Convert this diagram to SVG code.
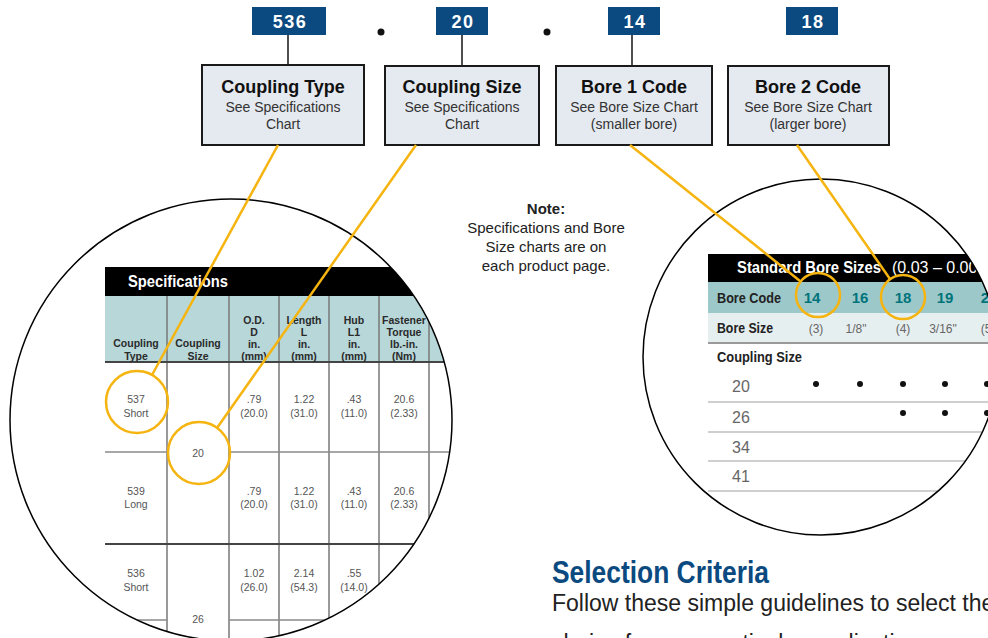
<svg xmlns="http://www.w3.org/2000/svg" width="988" height="638" viewBox="0 0 988 638">
<style>
.code{fill:#0b4a80}
.codet{font-family:'Liberation Sans',Arial,sans-serif;font-weight:bold;font-size:18px;fill:#fff;text-anchor:middle;letter-spacing:1.5px}
.box{fill:#e5e9f0;stroke:#1a1a1a;stroke-width:2}
.bt{font-family:'Liberation Sans',Arial,sans-serif;font-weight:bold;font-size:18px;fill:#111;text-anchor:middle}
.bs{font-family:'Liberation Sans',Arial,sans-serif;font-size:14px;fill:#333;text-anchor:middle}
.stem{stroke:#222;stroke-width:1.6;fill:none}
.yl{stroke:#f5b40f;stroke-width:2.5;fill:none}
.lens{fill:none;stroke:#000;stroke-width:1.5}
.hd{font-family:'Liberation Sans Narrow','Liberation Sans',Arial,sans-serif;font-weight:bold;font-size:10.5px;fill:#2a2a2a;text-anchor:middle}
.dt{font-family:'Liberation Sans Narrow','Liberation Sans',Arial,sans-serif;font-size:10.5px;fill:#555;text-anchor:middle}
.col{stroke:#777;stroke-width:1.5}
.rl{stroke:#8a8a8a;stroke-width:1.5}
.heavy{stroke:#444;stroke-width:2.2}
.rb{font-family:'Liberation Sans Narrow','Liberation Sans',Arial,sans-serif;font-weight:bold;font-size:15px;fill:#222}
.tn{font-family:'Liberation Sans Narrow','Liberation Sans',Arial,sans-serif;font-weight:bold;font-size:15px;fill:#00747a;text-anchor:middle}
.bv{font-family:'Liberation Sans Narrow','Liberation Sans',Arial,sans-serif;font-size:12px;fill:#666;text-anchor:middle}
.cs{font-family:'Liberation Sans',Arial,sans-serif;font-size:16px;fill:#666}
.rline{stroke:#cfcfcf;stroke-width:2}
.note{font-family:'Liberation Sans',Arial,sans-serif;font-size:15px;fill:#222;text-anchor:middle}
</style>
<defs>
<clipPath id="clipL"><circle cx="231" cy="420" r="221"/></clipPath>
<clipPath id="clipR"><circle cx="821" cy="357" r="178"/></clipPath>
</defs>
<rect width="988" height="638" fill="#fff"/>

<g id="code-536"><rect class="code" x="252" y="7" width="74" height="28"/><text class="codet" x="290" y="28">536</text></g>
<g id="dot-1"><circle cx="381" cy="32" r="3.5" fill="#111"/></g>
<g id="code-20"><rect class="code" x="436" y="7" width="52" height="28"/><text class="codet" x="463" y="28">20</text></g>
<g id="dot-2"><circle cx="547" cy="32" r="3.5" fill="#111"/></g>
<g id="code-14"><rect class="code" x="608" y="7" width="52" height="28"/><text class="codet" x="635" y="28">14</text></g>
<g id="code-18"><rect class="code" x="786" y="7" width="52" height="28"/><text class="codet" x="813" y="28">18</text></g>

<g id="box-coupling-type"><rect class="box" x="202" y="65" width="162" height="80"/>
<text class="bt" x="283" y="93">Coupling Type</text>
<text class="bs" x="283" y="112">See Specifications</text>
<text class="bs" x="283" y="129">Chart</text></g>
<g id="box-coupling-size"><rect class="box" x="385" y="66" width="154" height="79"/>
<text class="bt" x="462" y="93">Coupling Size</text>
<text class="bs" x="462" y="112">See Specifications</text>
<text class="bs" x="462" y="129">Chart</text></g>
<g id="box-bore1"><rect class="box" x="556" y="66" width="156" height="79"/>
<text class="bt" x="634" y="93">Bore 1 Code</text>
<text class="bs" x="634" y="112">See Bore Size Chart</text>
<text class="bs" x="634" y="129">(smaller bore)</text></g>
<g id="box-bore2"><rect class="box" x="728" y="66" width="161" height="79"/>
<text class="bt" x="808" y="93">Bore 2 Code</text>
<text class="bs" x="808" y="112">See Bore Size Chart</text>
<text class="bs" x="808" y="129">(larger bore)</text></g>

<g id="note">
<text class="note" x="546" y="214" font-weight="bold">Note:</text>
<text class="note" x="546" y="233">Specifications and Bore</text>
<text class="note" x="546" y="252">Size charts are on</text>
<text class="note" x="546" y="271">each product page.</text>
</g>

<g id="spec-chart">
<g clip-path="url(#clipL)">
<rect x="105" y="267" width="400" height="29" fill="#000"/>
<text x="128" y="287" font-family="'Liberation Sans Narrow','Liberation Sans',Arial,sans-serif" font-weight="bold" font-size="17" fill="#fff" textLength="100" lengthAdjust="spacingAndGlyphs">Specifications</text>
<rect x="105" y="296" width="400" height="66" fill="#b7d7d9"/>
<line class="col" x1="167" y1="296" x2="167" y2="640"/>
<line class="col" x1="229" y1="296" x2="229" y2="640"/>
<line class="col" x1="279" y1="296" x2="279" y2="640"/>
<line class="col" x1="329" y1="296" x2="329" y2="640"/>
<line class="col" x1="379" y1="296" x2="379" y2="640"/>
<line class="col" x1="429" y1="296" x2="429" y2="640"/>
<line class="heavy" x1="105" y1="362" x2="505" y2="362"/>
<line class="rl" x1="105" y1="452" x2="167" y2="452"/>
<line class="rl" x1="229" y1="452" x2="505" y2="452"/>
<line class="heavy" x1="105" y1="544" x2="505" y2="544"/>
<line class="rl" x1="105" y1="620" x2="167" y2="620"/>
<line class="rl" x1="229" y1="620" x2="505" y2="620"/>
<text class="hd" x="136" y="347">Coupling</text><text class="hd" x="136" y="360">Type</text>
<text class="hd" x="198" y="347">Coupling</text><text class="hd" x="198" y="360">Size</text>
<text class="hd" x="254" y="324">O.D.</text><text class="hd" x="254" y="336">D</text><text class="hd" x="254" y="348">in.</text><text class="hd" x="254" y="360">(mm)</text>
<text class="hd" x="304" y="324">Length</text><text class="hd" x="304" y="336">L</text><text class="hd" x="304" y="348">in.</text><text class="hd" x="304" y="360">(mm)</text>
<text class="hd" x="354" y="324">Hub</text><text class="hd" x="354" y="336">L1</text><text class="hd" x="354" y="348">in.</text><text class="hd" x="354" y="360">(mm)</text>
<text class="hd" x="404" y="324">Fastener</text><text class="hd" x="404" y="336">Torque</text><text class="hd" x="404" y="348">lb.-in.</text><text class="hd" x="404" y="360">(Nm)</text>
<text class="dt" x="136" y="403">537</text><text class="dt" x="136" y="417">Short</text>
<text class="dt" x="254" y="403">.79</text><text class="dt" x="254" y="417">(20.0)</text>
<text class="dt" x="304" y="403">1.22</text><text class="dt" x="304" y="417">(31.0)</text>
<text class="dt" x="354" y="403">.43</text><text class="dt" x="354" y="417">(11.0)</text>
<text class="dt" x="404" y="403">20.6</text><text class="dt" x="404" y="417">(2.33)</text>
<text class="dt" x="198" y="457">20</text>
<text class="dt" x="136" y="495">539</text><text class="dt" x="136" y="508">Long</text>
<text class="dt" x="254" y="495">.79</text><text class="dt" x="254" y="508">(20.0)</text>
<text class="dt" x="304" y="495">1.22</text><text class="dt" x="304" y="508">(31.0)</text>
<text class="dt" x="354" y="495">.43</text><text class="dt" x="354" y="508">(11.0)</text>
<text class="dt" x="404" y="495">20.6</text><text class="dt" x="404" y="508">(2.33)</text>
<text class="dt" x="136" y="577">536</text><text class="dt" x="136" y="591">Short</text>
<text class="dt" x="254" y="577">1.02</text><text class="dt" x="254" y="591">(26.0)</text>
<text class="dt" x="304" y="577">2.14</text><text class="dt" x="304" y="591">(54.3)</text>
<text class="dt" x="354" y="577">.55</text><text class="dt" x="354" y="591">(14.0)</text>
<text class="dt" x="198" y="623">26</text>
</g>
<circle class="lens" cx="231" cy="420" r="221"/>
</g>

<g id="bore-chart">
<g clip-path="url(#clipR)">
<rect x="708" y="254" width="300" height="28" fill="#000"/>
<text x="737" y="273" font-family="'Liberation Sans Narrow','Liberation Sans',Arial,sans-serif" font-weight="bold" font-size="16" fill="#fff"><tspan textLength="144" lengthAdjust="spacingAndGlyphs">Standard Bore Sizes</tspan><tspan x="892" font-weight="normal">(0.03 – 0.00mm)</tspan></text>
<rect x="708" y="282" width="300" height="31" fill="#9dc8ca"/>
<rect x="708" y="313" width="300" height="30" fill="#e6eff0"/>
<line x1="708" y1="343" x2="1008" y2="343" stroke="#9a9a9a" stroke-width="2"/>
<text class="rb" x="717" y="303" textLength="64" lengthAdjust="spacingAndGlyphs">Bore Code</text>
<text class="tn" x="812" y="303">14</text><text class="tn" x="860" y="303">16</text><text class="tn" x="903" y="303">18</text><text class="tn" x="945" y="303">19</text><text class="tn" x="989" y="303">20</text>
<text class="rb" x="717" y="333" textLength="56" lengthAdjust="spacingAndGlyphs">Bore Size</text>
<text class="bv" x="816" y="333">(3)</text><text class="bv" x="856" y="333">1/8"</text><text class="bv" x="903" y="333">(4)</text><text class="bv" x="943" y="333">3/16"</text><text class="bv" x="988" y="333">(5)</text>
<text class="rb" x="717" y="362" textLength="85" lengthAdjust="spacingAndGlyphs">Coupling Size</text>
<text class="cs" x="732" y="392">20</text>
<text class="cs" x="732" y="423">26</text>
<text class="cs" x="732" y="453">34</text>
<text class="cs" x="732" y="482">41</text>
<line class="rline" x1="708" y1="402" x2="1008" y2="402"/>
<line class="rline" x1="708" y1="432" x2="1008" y2="432"/>
<line class="rline" x1="708" y1="461" x2="1008" y2="461"/>
<line class="rline" x1="708" y1="491" x2="1008" y2="491"/>
<g fill="#111">
<circle cx="816" cy="384" r="3"/><circle cx="860" cy="384" r="3"/><circle cx="903" cy="384" r="3"/><circle cx="945" cy="384" r="3"/><circle cx="987" cy="384" r="3"/>
<circle cx="903" cy="413" r="3"/><circle cx="945" cy="413" r="3"/><circle cx="987" cy="413" r="3"/>
</g>
</g>
<circle class="lens" cx="821" cy="357" r="178"/>
</g>

<g id="connectors">
<line class="stem" x1="288" y1="35" x2="288" y2="65"/>
<line class="stem" x1="462" y1="35" x2="462" y2="66"/>
<line class="stem" x1="632" y1="35" x2="632" y2="66"/>
<line class="yl" x1="278" y1="145" x2="152" y2="375"/>
<line class="yl" x1="416" y1="145" x2="217" y2="428"/>
<line class="yl" x1="630" y1="145" x2="800" y2="281"/>
<line class="yl" x1="797" y1="145" x2="890" y2="279"/>
<circle class="yl" cx="137" cy="402" r="31"/>
<circle class="yl" cx="199" cy="453" r="31"/>
<circle class="yl" cx="818" cy="295" r="22"/>
<circle class="yl" cx="903" cy="297" r="22"/>
</g>

<g id="selection-criteria">
<text x="552" y="583" font-family="'Liberation Sans Narrow','Liberation Sans',Arial,sans-serif" font-weight="bold" font-size="31" fill="#0b4a80" textLength="217" lengthAdjust="spacingAndGlyphs">Selection Criteria</text>
<text x="552" y="611" font-family="'Liberation Sans',Arial,sans-serif" font-size="23" fill="#222">Follow these simple guidelines to select the</text>
<text x="552" y="651" font-family="'Liberation Sans',Arial,sans-serif" font-size="23" fill="#222">choice for your particular application.</text>
</g>
</svg>
